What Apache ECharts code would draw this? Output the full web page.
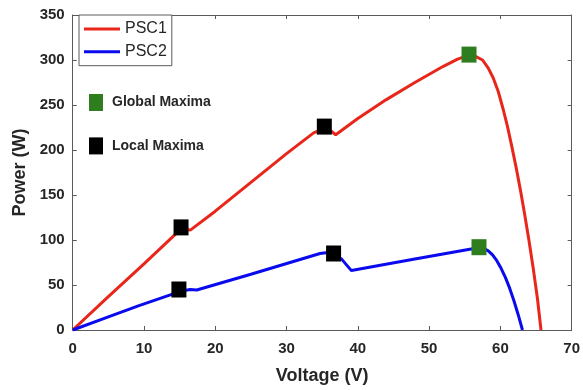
<!DOCTYPE html>
<html>
<head>
<meta charset="utf-8">
<script src="https://cdn.jsdelivr.net/npm/echarts@6/dist/echarts.min.js"></script>
<style>html,body{margin:0;padding:0;background:#fff}#c{width:583px;height:390px}</style>
</head>
<body>
<div id="c"></div>
<script>
// PSC1 curve (Voltage V, Power W)
const psc1 = [
  [0,0],[5,37],[10,73.5],[14.5,107],[15.5,112],[16.5,111],[20,132],[25,164],[30,196],
  [33.8,219],[35.6,225],[36.9,217],[40,235],[44,256],[48,275],[52,293],[54,301],[55.6,305.5],
  [56.5,304],[57.5,300],[58.3,291],[59,280],[59.7,265],[60.4,245],[61,226],[61.6,204],
  [62.2,181],[62.8,156],[63.4,129],[64,100],[64.6,69],[65.2,35],[65.7,0]
];
// PSC2 curve
const psc2 = [
  [0,0],[5,14.5],[9.3,27],[13.7,39],[15,43],[16.5,45],[17.4,44.5],[25,62],[34.7,85],
  [35.8,86],[37.7,79],[39.1,66],[48,79],[55.5,89.5],[57,91.5],[57.7,90.5],[58.3,88],
  [58.9,83.5],[59.5,77],[60.1,68.5],[60.7,58.5],[61.3,46.5],[61.9,32.5],[62.5,17],[63.1,0]
];
// Maxima markers
const globalMaxima = [[55.6,306],[57,92]];
const localMaxima = [[15.2,114],[35.3,226],[14.9,45],[36.6,85]];
// Axis ticks
const xTicks = [0,10,20,30,40,50,60,70];
const yTicks = [0,50,100,150,200,250,300,350];

const FONT = 'Liberation Sans, Arial, Helvetica, sans-serif';
const AX = '#5a5a5a';
const TXT = '#262626';

const chart = echarts.init(document.getElementById('c'), null, {renderer:'canvas'});
const xMin = xTicks[0], xMax = xTicks[xTicks.length-1], xInt = xTicks[1]-xTicks[0];
const yMin = yTicks[0], yMax = yTicks[yTicks.length-1], yInt = yTicks[1]-yTicks[0];

const baseAxisLine = {show:true, onZero:false, lineStyle:{color:AX, width:1}};
const tick = {show:true, inside:true, length:4, lineStyle:{color:AX, width:1}};

chart.setOption({
  animation:false,
  backgroundColor:'#fff',
  grid:{left:72.7, right:3, top:15, bottom:58.3, containLabel:false},
  xAxis:[{
    type:'value', min:xMin, max:xMax, interval:xInt, position:'bottom',
    axisLine:baseAxisLine, axisTick:tick, splitLine:{show:false},
    axisLabel:{color:TXT, fontFamily:FONT, fontWeight:'bold', fontSize:15, margin:11},
    name:'Voltage (V)', nameLocation:'middle', nameGap:37,
    nameTextStyle:{color:TXT, fontFamily:FONT, fontWeight:'bold', fontSize:18}
  },{
    type:'value', min:xMin, max:xMax, interval:xInt, position:'top',
    axisLine:baseAxisLine, axisTick:tick, splitLine:{show:false}, axisLabel:{show:false}
  }],
  yAxis:[{
    type:'value', min:yMin, max:yMax, interval:yInt, position:'left',
    axisLine:baseAxisLine, axisTick:tick, splitLine:{show:false},
    axisLabel:{color:TXT, fontFamily:FONT, fontWeight:'bold', fontSize:15, margin:8},
    name:'Power (W)', nameLocation:'middle', nameGap:37,
    nameTextStyle:{color:TXT, fontFamily:FONT, fontWeight:'bold', fontSize:18}
  },{
    type:'value', min:yMin, max:yMax, interval:yInt, position:'right',
    axisLine:baseAxisLine, axisTick:tick, splitLine:{show:false}, axisLabel:{show:false}
  }],
  legend:[{
    data:['PSC1','PSC2'], orient:'vertical', left:79, top:15,
    icon:'rect', itemWidth:36, itemHeight:3, itemGap:4.7,
    padding:[5,5,5,5], borderColor:AX, borderWidth:1, backgroundColor:'#fff',
    textStyle:{color:TXT, fontFamily:FONT, fontSize:16, lineHeight:18},
    selectedMode:false
  },{
    data:['Global Maxima','Local Maxima'], orient:'vertical', left:89, top:94,
    icon:'rect', itemWidth:14, itemHeight:17, itemGap:26.4, padding:0,
    textStyle:{color:TXT, fontFamily:FONT, fontSize:14, fontWeight:'bold', padding:[0,0,0,4]},
    selectedMode:false
  }],
  series:[
    {name:'PSC1', type:'line', data:psc1, symbol:'none', smooth:false,
     lineStyle:{color:'#e8261a', width:3}, itemStyle:{color:'#e8261a'}, z:2},
    {name:'PSC2', type:'line', data:psc2, symbol:'none', smooth:false,
     lineStyle:{color:'#0a0aee', width:3}, itemStyle:{color:'#0a0aee'}, z:2},
    {name:'Global Maxima', type:'scatter', data:globalMaxima, symbol:'rect', symbolSize:[15,16],
     itemStyle:{color:'#2e7d1e', opacity:1}, z:5},
    {name:'Local Maxima', type:'scatter', data:localMaxima, symbol:'rect', symbolSize:[15,16],
     itemStyle:{color:'#000000', opacity:1}, z:5}
  ]
});
</script>
</body>
</html>
